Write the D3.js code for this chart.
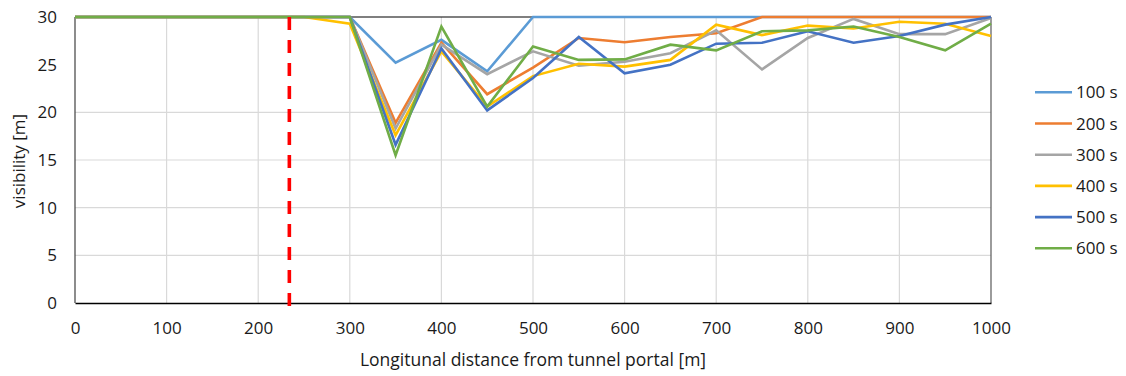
<!DOCTYPE html>
<html><head><meta charset="utf-8">
<script src="https://cdn.jsdelivr.net/npm/d3@7"></script>
<style>body{margin:0;background:#fff}svg{display:block}text{font-family:"Open Sans",sans-serif;fill:#1a1a1a}</style>
</head><body><svg id="c" width="1126" height="376"></svg>
<script>
const distances = d3.range(0, 1001, 50);
const seriesNames = ["100 s","200 s","300 s","400 s","500 s","600 s"];
const colors = ["#5B9BD5","#ED7D31","#A5A5A5","#FFC000","#4472C4","#70AD47"];
const s100 = [30,30,30,30,30,30,30,25.2,27.6,24.3,30,30,30,30,30,30,30,30,30,30,30];
const s200 = [30,30,30,30,30,30,30,18.9,27.3,21.9,24.7,27.8,27.35,27.9,28.3,30,30,30,30,30,30];
const s300 = [30,30,30,30,30,30,30,18.3,27.1,24.0,26.4,24.9,25.3,26.2,28.6,24.5,27.8,29.8,28.2,28.2,29.9];
const s400 = [30,30,30,30,30,30,29.3,17.6,26.4,20.6,23.8,25.1,24.8,25.5,29.2,28.1,29.1,28.8,29.5,29.3,28.0];
const s500 = [30,30,30,30,30,30,30,16.6,26.7,20.2,23.6,27.9,24.1,25.0,27.2,27.3,28.5,27.3,28.0,29.2,30];
const s600 = [30,30,30,30,30,30,30,15.5,29.0,20.6,26.9,25.5,25.55,27.1,26.5,28.5,28.6,29.0,27.9,26.5,29.3];
const allSeries = [s100,s200,s300,s400,s500,s600];
const xTicks = d3.range(0, 1001, 100);
const yTicks = [0,5,10,15,20,25,30];
const yGrid = [5,10,15,20];
const portalDistance = 234;

const svg = d3.select("#c");
const L=75, R=991, T=17, B=303;
const x = d3.scaleLinear().domain([0,1000]).range([L,R]);
const y = d3.scaleLinear().domain([0,30]).range([B,T]);

// gridlines
svg.append("g").selectAll("line").data(xTicks.filter(d=>d>0&&d<1000)).join("line")
  .attr("x1",d=>x(d)).attr("x2",d=>x(d)).attr("y1",T).attr("y2",B)
  .attr("stroke","#d9d9d9").attr("stroke-width",1.2);
svg.append("g").selectAll("line").data(yGrid).join("line")
  .attr("x1",L).attr("x2",R).attr("y1",d=>y(d)).attr("y2",d=>y(d))
  .attr("stroke","#d9d9d9").attr("stroke-width",1.2);

// frame
svg.append("line").attr("x1",L).attr("x2",R).attr("y1",T).attr("y2",T).attr("stroke","#000").attr("stroke-width",1.2);
svg.append("line").attr("x1",R).attr("x2",R).attr("y1",T).attr("y2",B).attr("stroke","#595959").attr("stroke-width",1.2);
svg.append("line").attr("x1",L).attr("x2",L).attr("y1",T).attr("y2",B).attr("stroke","#404040").attr("stroke-width",1.2);

// axes
const xa = svg.append("g").attr("transform",`translate(0,${B})`)
  .call(d3.axisBottom(x).tickValues(xTicks).tickFormat(d3.format("d")).tickSize(0).tickPadding(19));
xa.select(".domain").attr("stroke","#000").attr("stroke-width",1.3);
xa.selectAll("text").style("font-size","17px").attr("fill","#1a1a1a");
const ya = svg.append("g").attr("transform",`translate(${L},0)`)
  .call(d3.axisLeft(y).tickValues(yTicks).tickFormat(d3.format("d")).tickSize(0).tickPadding(18));
ya.select(".domain").remove();
ya.selectAll("text").style("font-size","17px").attr("fill","#1a1a1a");

// series
const line = d3.line().x((d,i)=>x(distances[i])).y(d=>y(d));
svg.append("g").selectAll("path").data(allSeries).join("path")
  .attr("d",line).attr("fill","none")
  .attr("stroke",(d,i)=>colors[i]).attr("stroke-width",2.6)
  .attr("stroke-linejoin","miter");

// portal line
svg.append("line").attr("x1",x(portalDistance)).attr("x2",x(portalDistance))
  .attr("y1",T).attr("y2",B+12)
  .attr("stroke","#FF0000").attr("stroke-width",3.6).attr("stroke-dasharray","13,10");

// titles
svg.append("text").attr("x",(L+R)/2).attr("y",366).attr("text-anchor","middle")
  .style("font-size","17.5px").text("Longitunal distance from tunnel portal [m]");
svg.append("text").attr("transform","translate(25,161) rotate(-90)").attr("text-anchor","middle")
  .style("font-size","17px").text("visibility [m]");

// legend
const lg = svg.append("g").selectAll("g").data(seriesNames).join("g")
  .attr("transform",(d,i)=>`translate(1035,${92.3+i*31.2})`);
lg.append("line").attr("x1",0).attr("x2",37).attr("stroke",(d,i)=>colors[i]).attr("stroke-width",2.6);
lg.append("text").attr("x",41).attr("y",6).style("font-size","17px").text(d=>d);
</script></body></html>
